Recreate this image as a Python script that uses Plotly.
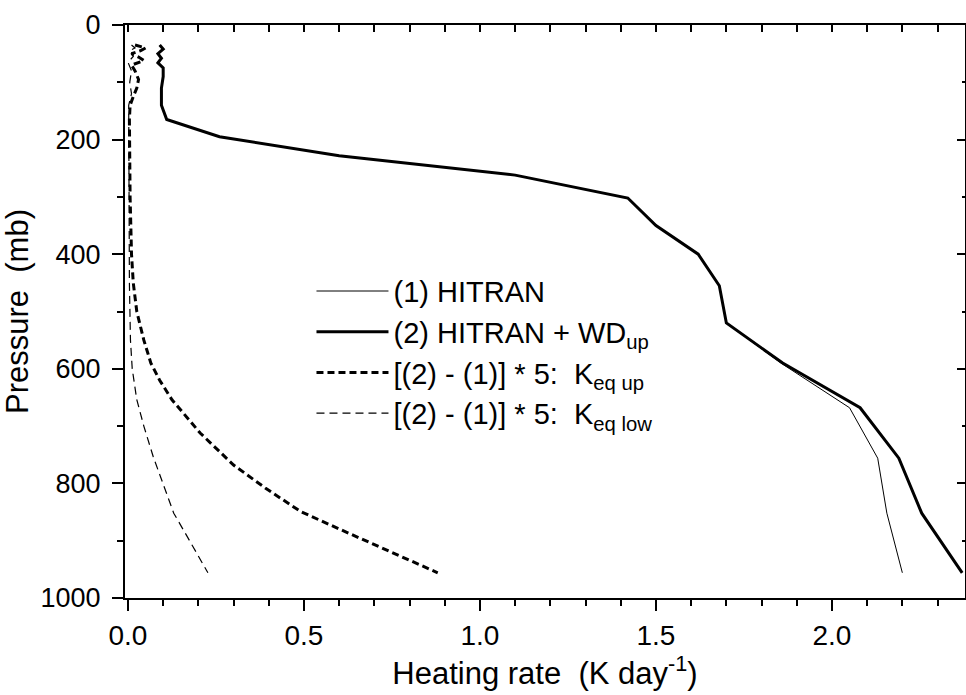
import plotly.graph_objects as go

# ---- data ----
p_main = [35, 42, 50, 58, 66, 75, 90, 110, 140, 165, 195, 228, 262, 302, 350, 400,
          455, 520, 590, 668, 756, 852, 956]
hr_hitran = [0.09, 0.10, 0.085, 0.095, 0.085, 0.10, 0.10, 0.095, 0.095, 0.11, 0.26, 0.60,
             1.10, 1.42, 1.50, 1.62, 1.68, 1.70, 1.855, 2.05, 2.13, 2.156, 2.20]
hr_wdup = [0.09, 0.10, 0.085, 0.095, 0.085, 0.10, 0.10, 0.095, 0.095, 0.11, 0.26, 0.60,
           1.10, 1.42, 1.50, 1.62, 1.68, 1.70, 1.86, 2.08, 2.19, 2.255, 2.37]

p_up = [35, 40, 45, 50, 56, 62, 70, 80, 95, 110, 125, 140, 165, 200, 250, 300, 350, 400,
        450, 500, 550, 590, 620, 654, 712, 768, 808, 849, 885, 920, 956]
keq_up = [0.02, 0.05, 0.035, 0.01, 0.03, 0.045, 0.01, 0.02, 0.03, 0.025, 0.015, 0.006,
          0.004, 0.004, 0.005, 0.006, 0.008, 0.01, 0.015, 0.025, 0.045, 0.065, 0.09, 0.125,
          0.205, 0.30, 0.39, 0.49, 0.62, 0.75, 0.88]

p_low = [35, 40, 45, 55, 65, 80, 100, 120, 140, 165, 300, 450, 550, 600, 654, 700, 754,
         800, 852, 900, 956]
keq_low = [0.01, 0.02, 0.005, 0.015, 0.0, 0.01, 0.005, 0.01, 0.002, 0.002, 0.002, 0.004,
           0.007, 0.012, 0.025, 0.045, 0.072, 0.10, 0.13, 0.175, 0.227]

names = ["(1) HITRAN",
         "(2) HITRAN + WD<sub>up</sub>",
         "[(2) - (1)] * 5:\u00a0 K<sub>eq up</sub>",
         "[(2) - (1)] * 5:\u00a0 K<sub>eq low</sub>"]

x_range = [-0.0085, 2.378]
y_range = [1000, 0]

FONT = "Liberation Sans, Arial, sans-serif"
FS_XTICK = 28
FS_YTICK = 27
FS_LEG = 29
FS_TITLE = 31

fig = go.Figure()
fig.add_trace(go.Scatter(x=hr_hitran, y=p_main, mode="lines", name=names[0],
                         line=dict(color="black", width=1)))
fig.add_trace(go.Scatter(x=hr_wdup, y=p_main, mode="lines", name=names[1],
                         line=dict(color="black", width=3)))
fig.add_trace(go.Scatter(x=keq_up, y=p_up, mode="lines", name=names[2],
                         line=dict(color="black", width=3, dash="7px,4px")))
fig.add_trace(go.Scatter(x=keq_low, y=p_low, mode="lines", name=names[3],
                         line=dict(color="black", width=1.2, dash="8px,5px")))
# empty trace so the mirrored top/right axes are drawn
fig.add_trace(go.Scatter(x=[], y=[], xaxis="x2", yaxis="y2", showlegend=False))

fig.update_layout(
    width=966, height=695,
    margin=dict(l=125, r=1, t=25, b=97),
    paper_bgcolor="white", plot_bgcolor="white",
    font=dict(family=FONT, size=FS_XTICK, color="black"),
    showlegend=True,
    legend=dict(x=0.222, y=0.58, xanchor="left", yanchor="top",
                bgcolor="rgba(0,0,0,0)", itemwidth=72,
                font=dict(family=FONT, size=FS_LEG), tracegroupgap=0),
    xaxis=dict(range=x_range, showgrid=False, zeroline=False,
               showline=True, linecolor="black", linewidth=2,
               ticks="outside", ticklen=11, tickwidth=2, tickcolor="black",
               tick0=0, dtick=0.5, tickformat=".1f",
               tickfont=dict(family=FONT, size=FS_XTICK),
               minor=dict(dtick=0.1, tick0=0, ticks="outside", ticklen=6,
                          tickwidth=1.5, tickcolor="black", showgrid=False),
               title=dict(text="Heating rate\u00a0 (K day<sup>-1</sup>)", standoff=8,
                          font=dict(family=FONT, size=FS_TITLE))),
    yaxis=dict(range=y_range, showgrid=False, zeroline=False,
               showline=True, linecolor="black", linewidth=2,
               ticks="outside", ticklen=11, tickwidth=2, tickcolor="black",
               tick0=0, dtick=200, ticklabelstandoff=6,
               tickfont=dict(family=FONT, size=FS_YTICK),
               minor=dict(dtick=100, tick0=0, ticks="outside", ticklen=6,
                          tickwidth=1.5, tickcolor="black", showgrid=False),
               title=dict(text="Pressure\u00a0 (mb)", standoff=3,
                          font=dict(family=FONT, size=FS_TITLE))),
    xaxis2=dict(range=x_range, overlaying="x", side="top", anchor="y",
                showgrid=False, zeroline=False, showline=True, linecolor="black",
                linewidth=2, ticks="inside", ticklen=7, tickwidth=2, tickcolor="black",
                tick0=0, dtick=0.1, showticklabels=False),
    yaxis2=dict(range=y_range, overlaying="y", side="right", anchor="x",
                showgrid=False, zeroline=False, showline=True, linecolor="black",
                linewidth=2, ticks="inside", ticklen=8, tickwidth=2, tickcolor="black",
                tick0=0, dtick=200, showticklabels=False,
                minor=dict(dtick=100, tick0=0, ticks="inside", ticklen=3,
                           tickwidth=1.5, tickcolor="black", showgrid=False)),
)

fig.write_html("out.html")
